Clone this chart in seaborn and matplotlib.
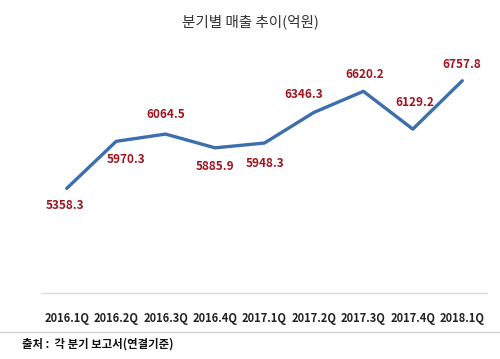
import matplotlib
matplotlib.use("Agg")
import matplotlib.pyplot as plt
import seaborn as sns
import pandas as pd
from matplotlib.lines import Line2D

# quarterly sales (100M KRW)
quarters = ["2016.1Q", "2016.2Q", "2016.3Q", "2016.4Q", "2017.1Q",
            "2017.2Q", "2017.3Q", "2017.4Q", "2018.1Q"]
sales = [5358.3, 5970.3, 6064.5, 5885.9, 5948.3, 6346.3, 6620.2, 6129.2, 6757.8]

# label offsets in pixels (dx, dy)
label_offsets = [(-2, -17), (10, -18), (0, 20), (0, -19), (0, -20),
                 (-10, 18), (1, 17), (2, 27), (-1, 16)]

df = pd.DataFrame({"quarter": quarters, "sales": sales, "x": range(len(quarters))})

sns.set_style("white")
plt.rcParams["font.family"] = ["Noto Sans CJK KR", "DejaVu Sans"]

fig = plt.figure(figsize=(5, 3.59), dpi=100)
ax = fig.add_axes([0.084, 0.184, 0.89, 0.643])

sns.lineplot(data=df, x="x", y="sales", ax=ax, color="#3d6fae", linewidth=2.4)

for i, row in df.iterrows():
    dx, dy = label_offsets[i]
    ax.annotate(f"{row['sales']:.1f}", (row["x"], row["sales"]),
                xytext=(dx * 0.72, dy * 0.72), textcoords="offset points",
                ha="center", va="center", color="#a0141e", fontsize=8.5,
                fontweight="bold", annotation_clip=False)

ax.set_xlim(-0.5, 8.5)
ax.set_ylim(4000, 7000)
ax.set_xticks(range(len(quarters)))
ax.set_xticklabels(quarters, fontsize=8, fontweight="bold", color="#222222")
ax.tick_params(axis="x", length=0, pad=14)
ax.set_yticks([])
ax.set_xlabel("")
ax.set_ylabel("")
for side in ["top", "left", "right"]:
    ax.spines[side].set_visible(False)
ax.spines["bottom"].set_color("#d9d9d9")
ax.spines["bottom"].set_linewidth(1)

fig.text(0.5, 1 - 22 / 359, "분기별 매출 추이(억원)", ha="center", va="center",
         fontsize=10.5, fontweight="medium", color="#333333")
fig.add_artist(Line2D([0, 1], [1 - 332 / 359, 1 - 332 / 359],
                      transform=fig.transFigure, color="#d0d0d0", linewidth=1))
fig.text(22 / 500, 1 - 344 / 359, "출처 :  각 분기 보고서(연결기준)", ha="left",
         va="center", fontsize=8.2, fontweight="bold", color="#111111")

fig.savefig("out.png", dpi=100)
